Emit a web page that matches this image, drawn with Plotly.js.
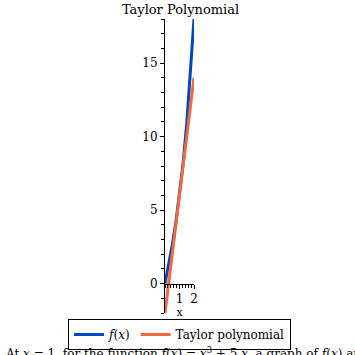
<!DOCTYPE html>
<html>
<head>
<meta charset="utf-8">
<script src="https://cdn.plot.ly/plotly-3.0.1.min.js"></script>
<style>html,body{margin:0;padding:0;background:#fff;}#chart{width:355px;height:355px;}</style>
</head>
<body>
<div id="chart"></div>
<script>
// Data
const fX = [0, 0.25, 0.5, 0.75, 1, 1.25, 1.5, 1.75, 2];
const fY = [0, 1.27, 2.63, 4.17, 6, 8.2, 10.88, 14.11, 18];
const taylorX = [0, 2];
const taylorY = [-2, 14];
const xTickVals = [1, 2];
const xTickText = ['1', '2'];
const yTickVals = [0, 5, 10, 15];
const yTickText = ['0', '5', '10', '15'];
const seriesNames = ['<i>f</i>(<i>x</i>)', 'Taylor polynomial'];

const FONT = 'DejaVu Serif, Liberation Serif, serif';
const W = 355, H = 355, T = 19, B = 42;

const traces = [
  {x: fX, y: fY, type: 'scatter', mode: 'lines', name: seriesNames[0],
   line: {color: '#0046be', width: 3}},
  {x: taylorX, y: taylorY, type: 'scatter', mode: 'lines', name: seriesNames[1],
   line: {color: '#f06941', width: 3}}
];

const plotH = H - T - B;
const py = px => (H - B - px) / plotH; // pixel row -> paper y

const layout = {
  width: W, height: H,
  margin: {l: 0, r: 0, t: T, b: B},
  paper_bgcolor: '#fff', plot_bgcolor: '#fff',
  font: {family: FONT, size: 12, color: '#000'},
  title: {text: 'Taylor Polynomial', font: {family: FONT, size: 13, color: '#000'},
          x: 180.5 / W, xref: 'paper', xanchor: 'center', y: 1 - 9 / H, yref: 'container', yanchor: 'middle'},
  showlegend: true,
  legend: {orientation: 'h', x: 179.5 / W, xanchor: 'center',
           y: py(319), yanchor: 'top', bordercolor: '#000', borderwidth: 1,
           font: {family: FONT, size: 12, color: '#000'}, itemwidth: 30,
           tracegroupgap: 0, bgcolor: '#fff'},
  xaxis: {domain: [165 / W, 194 / W], range: [0, 2], anchor: 'free', position: 0.1,
          showgrid: false, zeroline: false,
          showline: true, linecolor: '#000', linewidth: 1,
          ticks: 'outside', ticklen: 4, tickcolor: '#000', tickvals: xTickVals, ticktext: xTickText,
          minor: {ticks: 'outside', dtick: 0.2, ticklen: 3, tickcolor: '#000', showgrid: false},
          tickfont: {family: FONT, size: 12, color: '#000'},
          title: {text: 'x', font: {family: FONT, size: 11, color: '#000'}, standoff: 2},
          fixedrange: true},
  yaxis: {range: [-2, 18], showgrid: false, zeroline: false,
          showline: true, linecolor: '#000', linewidth: 1,
          ticks: 'outside', ticklen: 4, tickcolor: '#000', tickvals: yTickVals, ticktext: yTickText,
          minor: {ticks: 'outside', dtick: 1, ticklen: 3, tickcolor: '#000', showgrid: false},
          tickfont: {family: FONT, size: 12, color: '#000'}, fixedrange: true},
  annotations: [{
    xref: 'paper', yref: 'paper', x: 3 / W, y: py(343),
    xanchor: 'left', yanchor: 'top', showarrow: false, align: 'left',
    text: 'At <i>x</i> = 1, for the function <i>f</i>(<i>x</i>) = <i>x</i><sup>3</sup> + 5 <i>x</i>, a graph of <i>f</i>(<i>x</i>) and its Taylor polynomial',
    font: {family: FONT, size: 12, color: '#000'}
  }]
};

Plotly.newPlot('chart', traces, layout, {displayModeBar: false, staticPlot: true});
</script>
</body>
</html>
